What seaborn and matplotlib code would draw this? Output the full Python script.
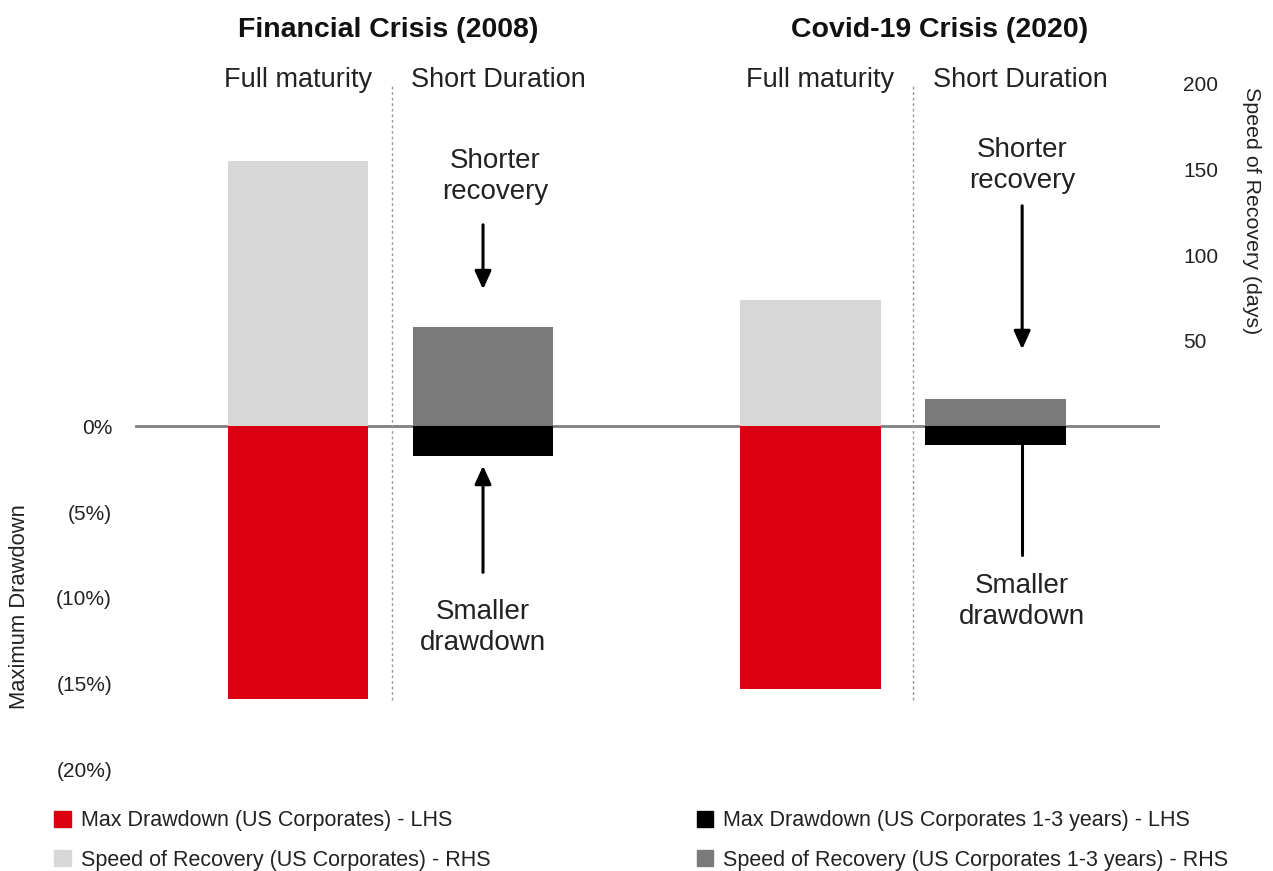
import numpy as np
import pandas as pd
import seaborn as sns
import matplotlib as mpl
from matplotlib import pyplot as plt
from matplotlib.patches import Patch

# Values
crises = ["Financial Crisis (2008)", "Financial Crisis (2008)", "Covid-19 Crisis (2020)", "Covid-19 Crisis (2020)"]
maturities = ["Full maturity", "Short Duration", "Full maturity", "Short Duration"]
max_drawdown = [-15.9, -1.7, -15.3, -1.1]      # % (LHS)
speed_of_recovery = [155, 58, 74, 16]           # days (RHS)

dd_series = ["Max Drawdown (US Corporates) - LHS", "Max Drawdown (US Corporates 1-3 years) - LHS"] * 2
rec_series = ["Speed of Recovery (US Corporates) - RHS", "Speed of Recovery (US Corporates 1-3 years) - RHS"] * 2

left_ticks = [0, -5, -10, -15, -20]
left_labels = ["0%", "(5%)", "(10%)", "(15%)", "(20%)"]
right_ticks = [50, 100, 150, 200]
right_labels = ["50", "100", "150", "200"]

# layout: bar centres on a numeric x scale (groups separated by a wider gap)
bar_pos = [0, 1, 2.77, 3.77]
heading_offset = [0, 0.081, 0.054, 0.135]

colors = {
    dd_series[0]: "#DB0011",
    dd_series[1]: "#000000",
    rec_series[0]: "#D7D7D7",
    rec_series[1]: "#7A7A7A",
}

df = pd.DataFrame({
    "pos": bar_pos,
    "crisis": crises,
    "maturity": maturities,
    "drawdown": max_drawdown,
    "recovery": speed_of_recovery,
    "dd_series": dd_series,
    "rec_series": rec_series,
})

sns.set_style("white")
plt.rcParams["font.family"] = ["Liberation Sans", "DejaVu Sans"]
text_col = "#222222"

fig = plt.figure(figsize=(12.73, 8.71), dpi=100)
ax = fig.add_axes([135 / 1273, 102 / 871, 1025 / 1273, 685 / 871])
ax2 = ax.twinx()

ax.axhline(0, color="#808080", lw=2, zorder=0)

sns.barplot(data=df, x="pos", y="drawdown", hue="dd_series", palette=colors,
            native_scale=True, width=0.76, dodge=False, errorbar=None,
            saturation=1, linewidth=0, legend=False, ax=ax, zorder=2)
sns.barplot(data=df, x="pos", y="recovery", hue="rec_series", palette=colors,
            native_scale=True, width=0.76, dodge=False, errorbar=None,
            saturation=1, linewidth=0, legend=False, ax=ax2, zorder=2)

for a in (ax, ax2):
    a.set_xlim(-0.881, 4.659)
    for s in a.spines.values():
        s.set_visible(False)
    a.set_xlabel("")
    a.set_ylabel("")
    a.set_xticks([])
ax.set_ylim(-20, 20)
ax2.set_ylim(-200, 200)

ax.set_yticks(left_ticks)
ax.set_yticklabels(left_labels)
ax2.set_yticks(right_ticks)
ax2.set_yticklabels(right_labels)
ax.tick_params(axis="y", length=0, pad=16.5, labelsize=15, labelcolor=text_col)
ax2.tick_params(axis="y", length=0, pad=16.5, labelsize=15, labelcolor=text_col)

# dotted separators between full maturity and short duration
for xs in [0.508, 3.324]:
    ax.axvline(xs, ymin=(769 - 700) / 685, ymax=(769 - 68) / 685, color="#999999",
               lw=1, ls=(0, (2, 2)), zorder=1)

# group headings
for x, off, lab in zip(bar_pos, heading_offset, maturities):
    ax.text(x + off, 20.25, lab, ha="center", va="center", fontsize=19.5,
            color=text_col, clip_on=False)

fig.text(388 / 1273, 1 - 30 / 871, "Financial Crisis (2008)", ha="center", va="center",
         fontsize=20.5, fontweight="bold", color="#111111")
fig.text(940 / 1273, 1 - 30 / 871, "Covid-19 Crisis (2020)", ha="center", va="center",
         fontsize=20.5, fontweight="bold", color="#111111")

# annotations
arrow = dict(arrowstyle="-|>,head_length=1.1,head_width=0.5", color="black", lw=2.2)
ax.text(1.065, 14.6, "Shorter\nrecovery", ha="center", va="center", fontsize=20,
        color=text_col, linespacing=1.25)
ax.annotate("", xy=(1.0, 7.85), xytext=(1.0, 11.94), arrowprops=arrow)
ax.text(1.0, -11.75, "Smaller\ndrawdown", ha="center", va="center", fontsize=20,
        color=text_col, linespacing=1.25)
ax.annotate("", xy=(1.0, -2.13), xytext=(1.0, -8.68), arrowprops=arrow)

ax.text(3.914, 15.25, "Shorter\nrecovery", ha="center", va="center", fontsize=20,
        color=text_col, linespacing=1.25)
ax.annotate("", xy=(3.914, 4.35), xytext=(3.914, 13.05), arrowprops=arrow)
ax.text(3.914, -10.2, "Smaller\ndrawdown", ha="center", va="center", fontsize=20,
        color=text_col, linespacing=1.25)
ax.plot([3.914, 3.914], [-1.08, -7.5], color="black", lw=2.2)

# axis titles
fig.text(20 / 1273, 1 - 607 / 871, "Maximum Drawdown", rotation=90, ha="center",
         va="center", fontsize=15.8, color=text_col)
fig.text(1252 / 1273, 1 - 211 / 871, "Speed of Recovery (days)", rotation=270,
         ha="center", va="center", fontsize=15.4, color=text_col)

# legend
handles = [Patch(color=colors[dd_series[0]], label=dd_series[0]),
           Patch(color=colors[rec_series[0]], label=rec_series[0]),
           Patch(color=colors[dd_series[1]], label=dd_series[1]),
           Patch(color=colors[rec_series[1]], label=rec_series[1])]
fig.legend(handles=handles, ncol=2, loc="lower left", bbox_to_anchor=(0.0275, -0.022),
           frameon=False, fontsize=15.5, handlelength=0.75, handleheight=0.75,
           handletextpad=0.5, columnspacing=9.55, labelspacing=0.85,
           labelcolor=text_col)

fig.savefig("out.png", dpi=100)
